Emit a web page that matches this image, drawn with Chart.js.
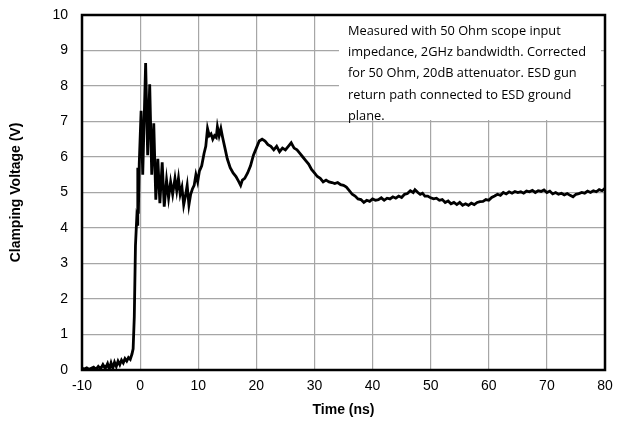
<!DOCTYPE html>
<html>
<head>
<meta charset="utf-8">
<script src="https://cdn.jsdelivr.net/npm/chart.js@4/dist/chart.umd.min.js"></script>
<style>
  html, body { margin: 0; padding: 0; background: #fff; }
  #wrap { width: 617px; height: 427px; }
</style>
</head>
<body>
<div id="wrap"><canvas id="grafico"></canvas></div>
<script>
// Tiempo (ns) y tensión (V)
const timeNs = [
  -10, -9.6, -9.2, -8.8, -8.4, -8, -7.6, -7.2, -6.8, -6.4, -6, -5.6, -5.3, -5, -4.7, -4.4, -4.1, -3.8, -3.5, -3.2,
  -2.9, -2.6, -2.3, -2, -1.7, -1.4, -1.2, -1.0, -0.8, -0.6, -0.5, -0.4, -0.3, -0.15, 0.17, 0.45, 0.95, 1.3, 1.65, 2.0,
  2.35, 2.7, 3.05, 3.4, 3.8, 4.15, 4.55, 4.9, 5.25, 5.6, 6.0, 6.3, 6.6, 6.9, 7.2, 7.5, 7.8, 8.1, 8.4, 8.7,
  9.0, 9.3, 9.6, 9.9, 10.2, 10.6, 11.0, 11.3, 11.6, 11.9, 12.2, 12.5, 12.8, 13.1, 13.3, 13.6, 13.9, 14.2, 14.6, 15.0,
  15.5, 16.0, 16.5, 17.0, 17.3, 17.6, 18.0, 18.5, 19.0, 19.5, 20.0, 20.5, 21.0, 21.5, 22.0, 22.5, 23.0, 23.5, 24.0, 24.5,
  25.0, 25.5, 26.0, 26.5, 27.0, 27.5, 28.0, 28.5, 29.0, 29.5, 30.0, 30.5, 31.0, 31.5, 32.0, 32.5, 33.0, 33.5, 34.0, 34.5,
  35.0, 35.5, 36.0, 36.5, 37.0, 37.5, 38.0, 38.5, 39.0, 39.5, 40.0, 40.5, 41.0, 41.5, 42.0, 42.5, 43.0, 43.5, 44.0, 44.5,
  45.0, 45.5, 46.0, 46.5, 47.0, 47.3, 47.8, 48.2, 48.6, 49.0, 49.5, 50.0, 50.5, 51.0, 51.5, 52.0, 52.5, 53.0, 53.5, 54.0,
  54.5, 55.0, 55.5, 56.0, 56.5, 57.0, 57.5, 58.0, 58.5, 59.0, 59.5, 60.0, 60.5, 61.0, 61.5, 62.0, 62.5, 63.0, 63.5, 64.0,
  64.5, 65.0, 65.5, 66.0, 66.5, 67.0, 67.5, 68.0, 68.5, 69.0, 69.5, 70.0, 70.5, 71.0, 71.5, 72.0, 72.5, 73.0, 73.5, 74.0,
  74.5, 75.0, 75.5, 76.0, 76.5, 77.0, 77.5, 78.0, 78.5, 79.0, 79.5, 80.0
];
const clampV = [
  0.05, 0.03, 0.06, 0.02, 0.05, 0.08, 0.02, 0.1, 0.03, 0.15, 0.04, 0.18, 0.02, 0.2, 0.05, 0.22, 0.1, 0.25, 0.15, 0.28,
  0.2, 0.32, 0.25, 0.35, 0.3, 0.45, 0.6, 1.5, 3.5, 4.2, 4.1, 5.7, 4.4, 5.8, 7.3, 5.5, 8.65, 6.05, 8.05, 5.5,
  6.95, 4.8, 5.95, 4.7, 5.85, 4.6, 5.35, 4.85, 5.3, 4.95, 5.4, 5.05, 5.4, 4.95, 5.15, 4.65, 4.9, 5.2, 4.65, 4.95,
  5.1, 5.2, 5.5, 5.3, 5.6, 5.75, 6.1, 6.3, 6.8, 6.6, 6.65, 6.5, 6.6, 6.55, 6.85, 6.6, 6.8, 6.55, 6.25, 5.95,
  5.7, 5.55, 5.45, 5.3, 5.2, 5.35, 5.4, 5.55, 5.75, 6.05, 6.25, 6.45, 6.5, 6.45, 6.35, 6.3, 6.2, 6.3, 6.15, 6.25,
  6.2, 6.3, 6.4, 6.25, 6.2, 6.1, 6.0, 5.9, 5.8, 5.65, 5.55, 5.45, 5.4, 5.3, 5.35, 5.3, 5.28, 5.25, 5.28, 5.22,
  5.2, 5.15, 5.05, 4.95, 4.9, 4.82, 4.8, 4.72, 4.78, 4.75, 4.82, 4.78, 4.8, 4.85, 4.78, 4.84, 4.82, 4.88, 4.84, 4.9,
  4.86, 4.95, 4.97, 5.05, 5.0, 5.08, 5.0, 4.95, 4.98, 4.9, 4.9, 4.85, 4.82, 4.84, 4.78, 4.8, 4.72, 4.76, 4.68, 4.72,
  4.66, 4.72, 4.64, 4.68, 4.64, 4.7, 4.66, 4.72, 4.74, 4.75, 4.8, 4.78, 4.86, 4.9, 4.95, 4.92, 5.0, 4.96, 5.02, 4.98,
  5.03, 5.0, 5.02, 4.98, 5.04, 5.02, 5.06, 5.0, 5.05, 5.03, 5.07, 5.0, 5.04, 4.96, 5.0, 4.95, 4.98, 4.93, 4.97, 4.92,
  4.88, 4.95, 4.97, 5.0, 4.98, 5.04, 5.0, 5.05, 5.02, 5.08, 5.05, 5.12
];

const xTicks = [-10, 0, 10, 20, 30, 40, 50, 60, 70, 80];
const yTicks = [0, 1, 2, 3, 4, 5, 6, 7, 8, 9, 10];
const notaLineas = [
  'Measured with 50 Ohm scope input',
  'impedance, 2GHz bandwidth. Corrected',
  'for 50 Ohm, 20dB attenuator. ESD gun',
  'return path connected to ESD ground',
  'plane.'
];

const puntos = timeNs.map((t, i) => ({ x: t, y: clampV[i] }));

// Marco negro y cuadro de nota
const marcoPlugin = {
  id: 'marco',
  afterDatasetsDraw(chart) {
    const { ctx, chartArea: a } = chart;
    ctx.save();
    // cuadro blanco de la nota
    ctx.fillStyle = '#fff';
    ctx.fillRect(339, a.top, a.right - 339 - 4, 105);
    ctx.fillStyle = '#000';
    ctx.font = '12.8px "Open Sans", sans-serif';
    ctx.textBaseline = 'middle';
    notaLineas.forEach((l, i) => ctx.fillText(l, 348, a.top + 16 + i * 21.4));
    // borde del area
    ctx.strokeStyle = '#000';
    ctx.lineWidth = 2.5;
    ctx.strokeRect(a.left, a.top, a.right - a.left, a.bottom - a.top);
    ctx.restore();
  }
};

const chart = new Chart(document.getElementById('grafico'), {
  type: 'line',
  data: {
    datasets: [{
      data: puntos,
      borderColor: '#000',
      borderWidth: 2.8,
      pointRadius: 0,
      tension: 0,
      fill: false
    }]
  },
  options: {
    responsive: true,
    maintainAspectRatio: false,
    animation: false,
    layout: { padding: { left: 4, right: 12, top: 15, bottom: 4 } },
    plugins: { legend: { display: false }, tooltip: { enabled: false } },
    scales: {
      x: {
        type: 'linear',
        min: -10, max: 80,
        afterBuildTicks: s => { s.ticks = xTicks.map(v => ({ value: v })); },
        afterFit: s => { s.height = 53; s.paddingLeft = 0; s.paddingRight = 0; },
        grid: { color: '#a6a6a6', lineWidth: 1.2, drawTicks: false },
        border: { display: false },
        ticks: { color: '#000', font: { family: 'Liberation Sans', size: 14 }, padding: 8, maxRotation: 0 },
        title: { display: true, text: 'Time (ns)', color: '#000', font: { family: 'Liberation Sans', size: 14, weight: 'bold' }, padding: { top: 2 } }
      },
      y: {
        min: 0, max: 10,
        afterBuildTicks: s => { s.ticks = yTicks.map(v => ({ value: v })); },
        afterFit: s => { s.width = 78; s.paddingTop = 0; s.paddingBottom = 0; },
        grid: { color: '#a6a6a6', lineWidth: 1.2, drawTicks: false },
        border: { display: false },
        ticks: { color: '#000', font: { family: 'Liberation Sans', size: 14 }, padding: 14 },
        title: { display: true, text: 'Clamping Voltage (V)', color: '#000', font: { family: 'Liberation Sans', size: 14, weight: 'bold' }, padding: { top: 4, bottom: 2 } }
      }
    }
  },
  plugins: [marcoPlugin]
});
</script>
</body>
</html>
